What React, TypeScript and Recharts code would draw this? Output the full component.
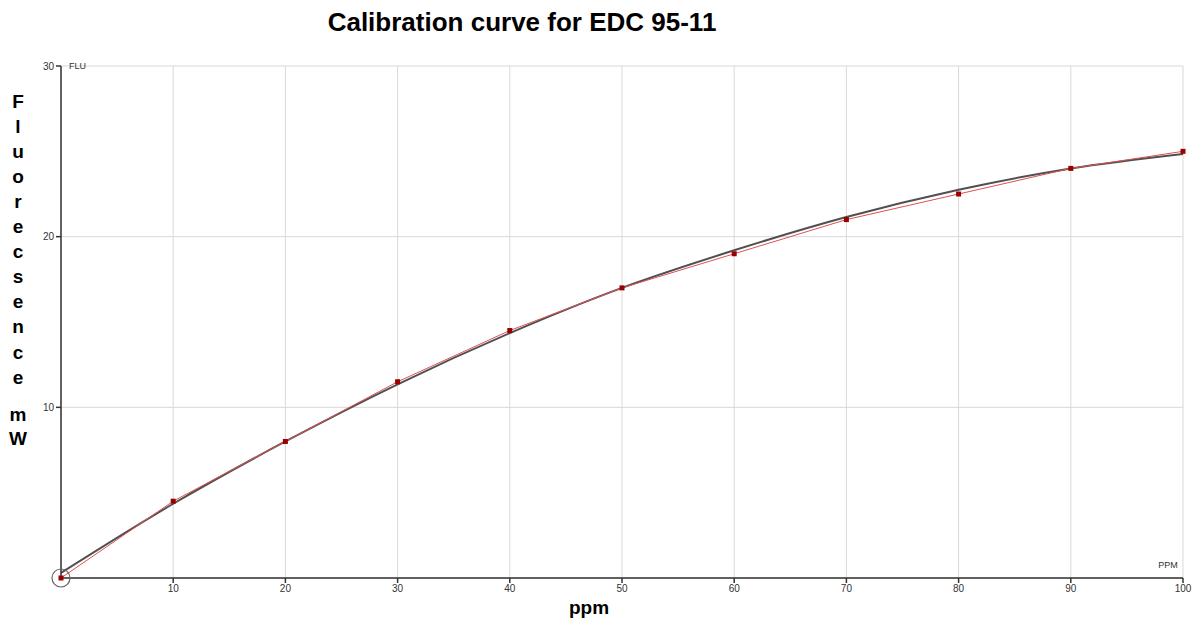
import React from "react";
import {
  LineChart,
  Line,
  XAxis,
  YAxis,
  CartesianGrid,
  ReferenceDot,
} from "recharts";

const ppm = [0, 10, 20, 30, 40, 50, 60, 70, 80, 90, 100];
const measured = [0, 4.5, 8, 11.5, 14.5, 17, 19, 21, 22.5, 24, 25];
const fitted = [0.3, 4.35, 8.0, 11.35, 14.35, 17.0, 19.2, 21.15, 22.75, 24.0, 24.85];
const xTicks = [10, 20, 30, 40, 50, 60, 70, 80, 90, 100];
const yTicks = [10, 20, 30];
const yLabelLetters = ["F", "l", "u", "o", "r", "e", "c", "s", "e", "n", "c", "e"];
const yLabelUnit = ["m", "W"];

const data = ppm.map((p, i) => ({ ppm: p, measured: measured[i], fitted: fitted[i] }));

const FONT = "'Liberation Sans', Arial, sans-serif";

const SquareDot = (props: any) => {
  const { cx, cy, index } = props;
  if (cx == null || cy == null) return <g key={"d" + index} />;
  return (
    <rect
      key={"d" + index}
      x={cx - 2.5}
      y={cy - 2.5}
      width={5}
      height={5}
      fill="#990000"
    />
  );
};

const YLabel = () => {
  const items: React.ReactNode[] = [];
  yLabelLetters.forEach((ch, i) => {
    items.push(
      <text
        key={"l" + i}
        x={18}
        y={101 + i * 25.1}
        textAnchor="middle"
        dominantBaseline="central"
        fontFamily={FONT}
        fontWeight="bold"
        fontSize={19}
        fill="#000"
      >
        {ch}
      </text>
    );
  });
  yLabelUnit.forEach((ch, i) => {
    items.push(
      <text
        key={"u" + i}
        x={18}
        y={414 + i * 24}
        textAnchor="middle"
        dominantBaseline="central"
        fontFamily={FONT}
        fontWeight="bold"
        fontSize={19}
        fill="#000"
      >
        {ch}
      </text>
    );
  });
  return <g>{items}</g>;
};

const XLabel = () => (
  <text
    x={589}
    y={607}
    textAnchor="middle"
    dominantBaseline="central"
    fontFamily={FONT}
    fontWeight="bold"
    fontSize={19}
    fill="#000"
  >
    ppm
  </text>
);

export default function App() {
  return (
    <div
      style={{
        position: "absolute",
        left: 0,
        top: 0,
        width: 1195,
        height: 621,
        background: "#fff",
      }}
    >
      <div
        style={{
          position: "absolute",
          left: 0,
          top: 6,
          width: 1044,
          textAlign: "center",
          fontFamily: FONT,
          fontWeight: "bold",
          fontSize: 26,
          lineHeight: "32px",
          color: "#000",
        }}
      >
        Calibration curve for EDC 95-11
      </div>
      <LineChart
        width={1195}
        height={621}
        data={data}
        margin={{ top: 66, right: 12, bottom: 0, left: 0 }}
        style={{ position: "absolute", left: 0, top: 0 }}
      >
        <CartesianGrid stroke="#d9d9d9" strokeWidth={1} />
        <XAxis
          dataKey="ppm"
          type="number"
          domain={[0, 100]}
          ticks={xTicks}
          height={43}
          interval={0}
          stroke="#333"
          strokeWidth={1.5}
          tickSize={5}
          tick={{ fontSize: 10, fill: "#333", fontFamily: FONT }}
          label={<XLabel />}
        />
        <YAxis
          type="number"
          domain={[0, 30]}
          ticks={yTicks}
          width={61}
          interval={0}
          stroke="#333"
          strokeWidth={1.5}
          tickSize={5}
          tick={{ fontSize: 10, fill: "#333", fontFamily: FONT }}
          label={<YLabel />}
        />
        <Line
          dataKey="fitted"
          type="monotone"
          stroke="#505050"
          strokeWidth={2}
          dot={false}
          isAnimationActive={false}
        />
        <Line
          dataKey="measured"
          type="linear"
          stroke="#e05050"
          strokeWidth={1}
          dot={<SquareDot />}
          isAnimationActive={false}
        />
        <ReferenceDot
          x={0}
          y={0}
          r={9}
          fill="none"
          stroke="#666"
          strokeWidth={1.2}
          ifOverflow="visible"
        />
        <ReferenceDot
          x={0}
          y={30}
          r={0}
          fill="none"
          stroke="none"
          ifOverflow="visible"
          label={{
            value: "FLU",
            position: "right",
            offset: 8,
            fontSize: 9,
            fill: "#333",
            fontFamily: FONT,
          }}
        />
        <ReferenceDot
          x={100}
          y={0}
          r={0}
          fill="none"
          stroke="none"
          ifOverflow="visible"
          label={{
            value: "PPM",
            position: "top",
            offset: 10,
            dx: -15,
            fontSize: 9,
            fill: "#333",
            fontFamily: FONT,
          }}
        />
      </LineChart>
    </div>
  );
}
